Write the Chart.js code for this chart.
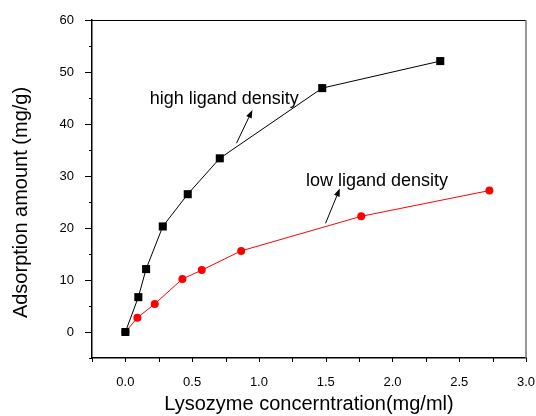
<!DOCTYPE html>
<html><head><meta charset="utf-8">
<script src="https://cdn.jsdelivr.net/npm/chart.js@4"></script>
<style>html,body{margin:0;padding:0;background:#fff}canvas{display:block}</style>
</head><body>
<canvas id="c" width="536" height="416"></canvas>
<script>
const highX = [0, 0.097, 0.155, 0.28, 0.467, 0.707, 1.474, 2.358];
const highY = [0, 6.7, 12.1, 20.3, 26.5, 33.4, 46.9, 52.1];
const lowX = [0, 0.09, 0.22, 0.427, 0.572, 0.867, 1.766, 2.726];
const lowY = [0, 2.75, 5.4, 10.2, 11.9, 15.6, 22.25, 27.2];
const xTickLabels = ['0.0','0.5','1.0','1.5','2.0','2.5','3.0'];
const yTickLabels = ['0','10','20','30','40','50','60'];
const seriesNames = ['high ligand density','low ligand density'];
const xTitle = 'Lysozyme concerntration(mg/ml)';
const yTitle = 'Adsorption amount (mg/g)';

const FONT = '"Liberation Sans", Arial, sans-serif';
const toPts = (xs, ys) => xs.map((x, i) => ({x: x, y: ys[i]}));
const isMult = (v, s) => Math.abs(v / s - Math.round(v / s)) < 1e-6;

const annotations = [
  {text: seriesNames[0], tx: 0.182, ty: 43.8, ax0: 0.832, ay0: 36.3, ax1: 0.951, ay1: 42.7},
  {text: seriesNames[1], tx: 1.352, ty: 28.1, ax0: 1.499, ay0: 20.9, ax1: 1.606, ay1: 27.6}
];

const decor = {
  id: 'decor',
  afterDraw(chart) {
    const ctx = chart.ctx, xs = chart.scales.x, ys = chart.scales.y;
    const a = chart.chartArea;
    ctx.save();
    ctx.lineWidth = 1;
    ctx.strokeStyle = '#000';
    ctx.beginPath(); ctx.moveTo(a.left, a.top + 0.5); ctx.lineTo(a.right, a.top + 0.5); ctx.stroke();
    ctx.strokeStyle = '#777'; ctx.lineWidth = 1.5;
    ctx.beginPath(); ctx.moveTo(a.right, a.top); ctx.lineTo(a.right, a.bottom); ctx.stroke();
    ctx.strokeStyle = '#000'; ctx.lineWidth = 1;
    ys.ticks.forEach(t => {
      const p = Math.round(ys.getPixelForValue(t.value)) + 0.5;
      const len = isMult(t.value, 10) ? 7 : 3;
      ctx.beginPath(); ctx.moveTo(a.left - len, p); ctx.lineTo(a.left, p); ctx.stroke();
    });
    xs.ticks.forEach(t => {
      const p = Math.round(xs.getPixelForValue(t.value)) + 0.5;
      ctx.beginPath(); ctx.moveTo(p, a.bottom); ctx.lineTo(p, a.bottom + 4); ctx.stroke();
    });
    ctx.fillStyle = '#000';
    ctx.font = '18px ' + FONT;
    ctx.textBaseline = 'alphabetic';
    ctx.textAlign = 'left';
    annotations.forEach(an => {
      ctx.fillText(an.text, xs.getPixelForValue(an.tx), ys.getPixelForValue(an.ty));
      const x0 = xs.getPixelForValue(an.ax0), y0 = ys.getPixelForValue(an.ay0);
      const x1 = xs.getPixelForValue(an.ax1), y1 = ys.getPixelForValue(an.ay1);
      const ang = Math.atan2(y1 - y0, x1 - x0);
      const hl = 8, hw = 3;
      const bx = x1 - hl * Math.cos(ang), by = y1 - hl * Math.sin(ang);
      ctx.beginPath(); ctx.moveTo(x0, y0); ctx.lineTo(bx, by); ctx.stroke();
      ctx.beginPath();
      ctx.moveTo(x1, y1);
      ctx.lineTo(bx + hw * Math.sin(ang), by - hw * Math.cos(ang));
      ctx.lineTo(bx - hw * Math.sin(ang), by + hw * Math.cos(ang));
      ctx.closePath(); ctx.fill();
    });
    ctx.font = '20px ' + FONT;
    ctx.textAlign = 'center';
    ctx.textBaseline = 'middle';
    ctx.translate(21, (a.top + a.bottom) / 2 + 13.5);
    ctx.rotate(-Math.PI / 2);
    ctx.fillText(yTitle, 0, 0);
    ctx.restore();
  }
};

new Chart(document.getElementById('c'), {
  type: 'scatter',
  data: {
    datasets: [
      {label: seriesNames[0], data: toPts(highX, highY), showLine: true,
       borderColor: '#000', backgroundColor: '#000', borderWidth: 1,
       pointStyle: 'rect', pointRadius: 5.7, pointHoverRadius: 5.7, pointBorderWidth: 0},
      {label: seriesNames[1], data: toPts(lowX, lowY), showLine: true,
       borderColor: '#ff0000', backgroundColor: '#ff0000', borderWidth: 1,
       pointStyle: 'circle', pointRadius: 4, pointHoverRadius: 4, pointBorderWidth: 0}
    ]
  },
  options: {
    responsive: false,
    animation: false,
    devicePixelRatio: 1,
    layout: {padding: {top: 20, right: 10, left: 0, bottom: 0}},
    plugins: {legend: {display: false}, tooltip: {enabled: false}},
    scales: {
      x: {
        type: 'linear', min: -0.25, max: 3.0,
        afterFit(s) { s.height = 58; s.paddingLeft = 0; s.paddingRight = 0; },
        grid: {display: false},
        border: {display: true, color: '#000', width: 1.5},
        ticks: {
          stepSize: 0.25, autoSkip: false, maxRotation: 0, padding: 9,
          color: '#000', font: {family: FONT, size: 13},
          callback: v => (v >= 0 && isMult(v, 0.5)) ? xTickLabels[Math.round(v / 0.5)] : ''
        },
        title: {display: true, text: xTitle, color: '#000', font: {family: FONT, size: 20}, padding: {top: 0, bottom: 0}}
      },
      y: {
        type: 'linear', min: -5, max: 60,
        afterFit(s) { s.width = 92; s.paddingTop = 0; s.paddingBottom = 0; },
        grid: {display: false},
        border: {display: true, color: '#000', width: 1.5},
        ticks: {
          stepSize: 5, autoSkip: false, padding: 10,
          color: '#000', font: {family: FONT, size: 13},
          callback: v => (v >= 0 && isMult(v, 10)) ? yTickLabels[Math.round(v / 10)] : ''
        },
        title: {display: false}
      }
    }
  },
  plugins: [decor]
});
</script>
</body></html>
